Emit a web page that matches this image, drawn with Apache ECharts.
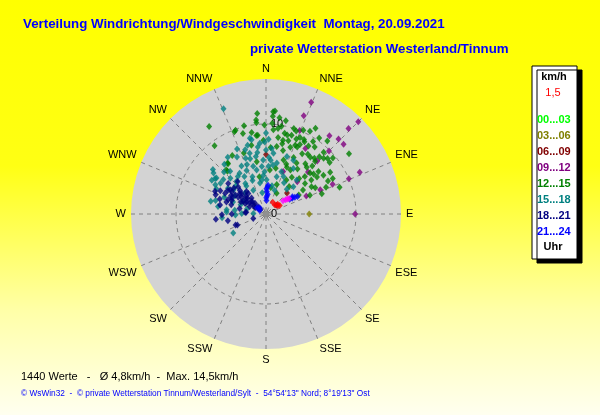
<!DOCTYPE html>
<html><head><meta charset="utf-8">
<script src="https://cdn.jsdelivr.net/npm/echarts@6/dist/echarts.min.js"></script>
<style>html,body{margin:0;padding:0;}#c{width:600px;height:415px;}</style>
</head><body><div id="c"></div>
<script>
// Direction labels (every 22.5°)
const directions = ['N','NNE','NE','ENE','E','ESE','SE','SSE','S','SSW','SW','WSW','W','WNW','NW','NNW'];
const radiusTicks = [0, 10];
const timeBuckets = ['00...03','03...06','06...09','09...12','12...15','15...18','18...21','21...24'];
const bucketColors = ['#00ff00','#808000','#800000','#800080','#008000','#008080','#000080','#0000ff'];

// [speed km/h, direction °]
const s00_03 = [];
const s03_06 = [[4.8,90]];
const s06_09 = [[3.3,45],[1.5,50],[6.6,0]];
const s09_12 = [[13.4,22],[11.7,21],[10.0,22],[14.5,45],[13.2,44],[11.6,44],[11.6,48],[11.2,39],[9.9,45],[8.2,44],
  [5.0,44],[5.1,22],[11.4,66],[10.0,67],[8.1,66],[6.6,66],[9.9,90],[6.6,45],[4.9,66],[8.5,31]];
const s12_15 = [[11.6,327],[11.2,355],[11.4,4],[10.9,4],[10.2,354],[9.8,339],[9.3,344],[9.5,323],[9.9,359],[10.1,4],
  [9.4,5],[9.2,13],[9.2,18],[9.3,27],[10.4,28],[9.2,36],[9.4,43],[9.1,51],[8.5,57],[8.7,70],
  [6.6,70],[5.3,67],[5.5,52],[6.7,47],[7.1,38],[6.6,31],[7.9,20],[8.0,13],[7.6,9],[6.3,18],
  [5.6,29],[4.4,31],[4.9,57],[5.9,59],[8.8,353],[7.8,348],[7.0,323],[6.6,318],[4.9,5],[5.9,350],
  [2.6,27],[4.2,60],[7.0,54],[8.7,43],[8.0,43],[8.2,25],[11.5,5],[9.6,8],[8.6,9],[11.0,30],
  [10.6,40],[9.2,48],[11.4,54],[9.1,28],[9.3,24],[9.1,15],[8.3,23],[7.8,31],[8.2,41],[6.9,41],
  [7.5,51],[9.9,340],[10.5,354],[8.8,354],[7.5,330],[7.1,323],[7.2,340],[6.4,318],[5.2,12],[6.0,22],
  [7.3,15],[4.0,40],[3.5,20],[5.0,35],[6.2,62],[7.8,62],[3.0,10],[4.2,350],[8.1,35],[10.0,18],
  [9.8,20],[9.0,22],[8.6,26],[8.9,32],[8.0,38],[7.4,44],[6.9,50],[7.7,56],[8.4,62],[9.6,33],
  [10.2,24],[10.6,12],[8.5,17],[7.0,26],[6.1,35],[5.4,43],[6.3,53],[5.7,24],[8.9,46],[9.7,50],
  [7.3,66],[6.0,46],[10.3,35],[8.4,13],[9.9,10],[10.8,8],[7.4,4],[8.2,358],[9.2,350],[10.1,346]];
const s15_18 = [[12.6,338],[7.7,310],[7.4,308],[6.9,305],[6.2,297],[7.9,336],[7.1,333],[7.5,342],[6.4,344],[8.0,359],
  [7.1,0],[6.0,357],[5.3,3],[5.8,12],[6.8,20],[6.7,27],[5.1,42],[4.3,45],[4.3,16],[3.5,349],
  [3.0,332],[6.1,309],[4.4,276],[3.4,268],[4.2,240],[1.4,272],[5.3,336],[5.4,327],[6.2,320],[5.0,348],
  [6.8,7],[4.6,25],[3.8,1],[7.5,353],[8.4,349],[9.0,0],[8.6,348],[6.8,306],[6.1,304],[5.4,279],
  [4.4,273],[3.5,277],[2.7,271],[5.1,304],[4.1,326],[3.8,353],[4.3,356],[6.5,350],[7.0,345],[5.9,339],
  [4.8,330],[5.6,315],[4.9,318],[4.0,338],[6.3,3],[5.5,8],[7.3,5],[4.7,358],[3.2,12],[5.9,31],
  [4.5,307],[3.9,290],[5.8,285],[2.9,300],
  [7.9,355],[8.3,2],[6.9,352],[6.6,340],[6.0,333],[5.2,323],[4.6,313],[6.6,315],[7.2,320],[7.6,326],
  [5.5,345],[4.4,340],[3.8,325],[3.3,315],[4.0,300],[5.0,292],[6.5,300],[7.1,302],[5.3,355],[6.0,5],
  [5.0,20],[4.0,30],[3.6,40],[2.8,20],[2.4,350],[3.0,290],[2.2,285],[4.9,265],[6.3,283],[7.9,345]];
const s18_21 = [[5.4,309],[4.8,319],[4.3,314],[6.0,291],[5.4,288],[4.5,291],[4.9,269],[5.6,264],[3.6,250],[2.3,274],
  [1.5,251],[4.0,302],[3.3,305],[3.0,319],[2.5,302],[1.7,314],[1.2,313],[2.4,318],[4.5,303],[5.1,297],
  [4.6,287],[2.0,295],[3.4,249],[2.6,297],[3.7,308],[3.3,319],[4.8,304],[3.5,310],[2.8,308],[2.2,305],
  [1.0,305],[4.2,296],[3.9,312],[2.9,299],[1.9,308],[5.0,302],[4.1,292],[3.1,296],[1.4,300],[0.8,310],
  [4.4,298],[3.6,301],[2.7,310],[2.1,312],[1.6,304],[3.0,312],[4.6,309],[5.7,297],[6.2,294],[5.2,281],
  [4.0,285],[3.0,282],[2.2,275],[4.3,260],[3.8,270]];
const s21_24 = [[1.5,2],[2.0,3],[2.5,2],[3.0,3],[3.2,4],[2.2,5],[1.8,1],[2.8,1],[3.1,58],[3.4,59],
  [3.7,60],[4.0,61],[3.5,57],[1.2,305],[1.0,315],[0.8,300]];
const sRed = [[1.6,55],[1.7,50],[1.5,30],[1.8,58],[1.4,45]];
const sMagenta = [[2.4,52],[2.7,54],[3.1,56],[2.9,55]];
const sCalm = [[0,0]];

const bucketData = [s00_03,s03_06,s06_09,s09_12,s12_15,s15_18,s18_21,s21_24];

const FONT = 'Liberation Sans, Arial';
const chart = echarts.init(document.getElementById('c'));
const series = [];
series.push({name:'calm',type:'scatter',coordinateSystem:'polar',polarIndex:1,data:sCalm,symbol:'rect',symbolSize:6,itemStyle:{color:'#808080'},silent:true});
timeBuckets.forEach((name,i)=>{
  series.push({name:name,type:'scatter',coordinateSystem:'polar',polarIndex:1,data:bucketData[i],symbol:'diamond',symbolSize:[6,7],
    itemStyle:{color:bucketColors[i]},silent:true});
});
series.push({name:'red',type:'scatter',coordinateSystem:'polar',polarIndex:1,data:sRed,symbol:'diamond',symbolSize:[6,7],itemStyle:{color:'#ff0000'},silent:true});
series.push({name:'magenta',type:'scatter',coordinateSystem:'polar',polarIndex:1,data:sMagenta,symbol:'diamond',symbolSize:[6,7],itemStyle:{color:'#ff00ff'},silent:true});

chart.setOption({
  animation:false,
  backgroundColor:{type:'linear',x:0,y:0,x2:0,y2:1,colorStops:[
    {offset:0,color:'#ffff00'},{offset:0.4,color:'#ffff14'},{offset:0.75,color:'#ffffa8'},{offset:1,color:'#fffff0'}]},
  title:[
    {text:'Verteilung Windrichtung/Windgeschwindigkeit  Montag, 20.09.2021',left:23,top:18,padding:0,
     textStyle:{color:'#0000ff',fontFamily:FONT,fontSize:13.3,fontWeight:'bold'}},
    {text:'private Wetterstation Westerland/Tinnum',left:250,top:43,padding:0,
     textStyle:{color:'#0000ff',fontFamily:FONT,fontSize:13.3,fontWeight:'bold'}}
  ],
  polar:[{center:[266,214],radius:135},{center:[266,214],radius:135}],
  angleAxis:[
    {polarIndex:0,type:'value',min:0,max:360,startAngle:90,z:0,
      axisLine:{show:false},axisTick:{show:false},axisLabel:{show:false},splitLine:{show:false}},
    {polarIndex:1,type:'value',min:0,max:360,interval:22.5,startAngle:90,clockwise:true,z:1,
      axisLine:{show:false},axisTick:{show:false},
      axisLabel:{margin:5,color:'#000',fontFamily:FONT,fontSize:11,
        formatter:v=>{const i=Math.round(v/22.5);return i<16?directions[i]:'';}},
      splitLine:{show:true,lineStyle:{color:'#808080',type:[4,4],width:1}}}
  ],
  radiusAxis:[
    {polarIndex:0,type:'value',min:0,max:15,z:0,
      axisLine:{show:false},axisTick:{show:false},axisLabel:{show:false},splitLine:{show:false},
      splitArea:{show:true,areaStyle:{color:['#d3d3d3']}}},
    {polarIndex:1,type:'value',min:0,max:15,interval:10,z:1,
      axisLine:{show:false},axisTick:{show:false},
      axisLabel:{show:true,color:'#000',fontFamily:FONT,fontSize:11,align:'left',verticalAlign:'middle',margin:-5,
        formatter:v=>radiusTicks.indexOf(v)>=0?String(v):''},
      splitLine:{show:true,lineStyle:{color:['#808080','#808080','rgba(0,0,0,0)'],type:[4,4],width:1}},
      splitArea:{show:false}}
  ],
  legend:{orient:'vertical',left:532,top:114,padding:0,itemWidth:0,itemHeight:0,itemGap:5,selectedMode:false,
    itemStyle:{opacity:0},
    textStyle:{fontFamily:FONT,fontSize:11,fontWeight:'bold',lineHeight:11},
    data:timeBuckets.map((n,i)=>({name:n,textStyle:{color:bucketColors[i]}}))},
  graphic:[
    {type:'rect',shape:{x:532,y:66,width:45,height:193},z:-1,
     style:{fill:'#fff',stroke:'#000',lineWidth:1,shadowBlur:0,shadowOffsetX:5,shadowOffsetY:4,shadowColor:'#000'}},
    {type:'text',x:554,y:77,z:10,style:{text:'km/h',fill:'#000',font:'bold 11px "Liberation Sans", Arial',align:'center',verticalAlign:'middle'}},
    {type:'text',x:553,y:93,z:10,style:{text:'1,5',fill:'#ff0000',font:'11px "Liberation Sans", Arial',align:'center',verticalAlign:'middle'}},
    {type:'text',x:553,y:247,z:10,style:{text:'Uhr',fill:'#000',font:'bold 11px "Liberation Sans", Arial',align:'center',verticalAlign:'middle'}},
    {type:'text',x:21,y:377,style:{text:'1440 Werte   -   Ø 4,8km/h  -  Max. 14,5km/h',fill:'#000',font:'11px "Liberation Sans", Arial',verticalAlign:'middle'}},
    {type:'text',x:21,y:394,style:{text:'© WsWin32  -  © private Wetterstation Tinnum/Westerland/Sylt  -  54°54\'13" Nord; 8°19\'13" Ost',fill:'#0000ff',font:'8.3px "Liberation Sans", Arial',verticalAlign:'middle'}}
  ],
  series:series
});
</script></body></html>
